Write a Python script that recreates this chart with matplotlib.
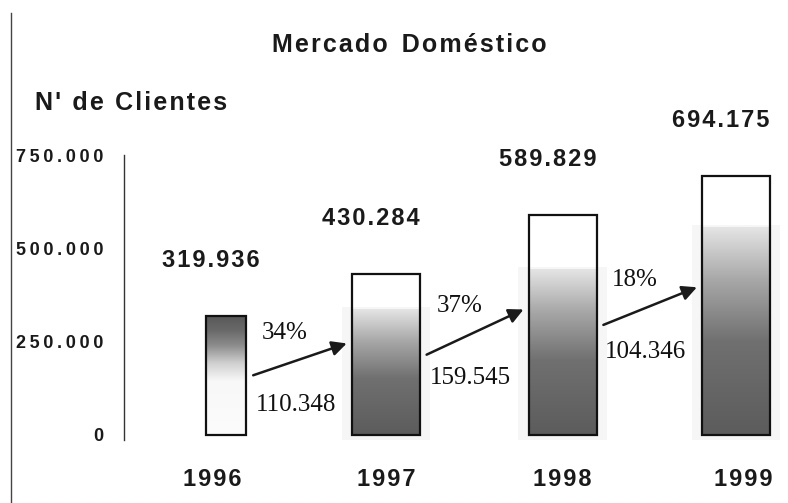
import matplotlib.pyplot as plt
import numpy as np
from matplotlib.colors import LinearSegmentedColormap

# data
years = ['1996', '1997', '1998', '1999']
clientes = [319936, 430284, 589829, 694175]
clientes_txt = ['319.936', '430.284', '589.829', '694.175']
crecimiento = ['34%', '37%', '18%']
incremento = ['110.348', '159.545', '104.346']
yticks = [0, 250000, 500000, 750000]
ytick_txt = ['0', '250.000', '500.000', '750.000']

# layout
xpos = [0, 0.94, 1.98, 3.0]
xlab = [-0.08, 0.94, 1.98, 3.04]
widths = [0.24, 0.40, 0.40, 0.40]
grad_top = [1.0, 0.78, 0.75, 0.80]

SANS = ['Liberation Sans', 'DejaVu Sans']
SERIF = ['Liberation Serif', 'DejaVu Serif']
HAIR = '\u200a'
THIN = '\u2009'


def spaced(s, sp=HAIR):
    return sp.join(s)


fig = plt.figure(figsize=(7.88, 5.03), dpi=100)
ax = fig.add_axes([124 / 788, 63 / 503, 664 / 788, 285 / 503])
ax.set_xlim(-0.6, 3.306)
ax.set_ylim(-13400, 750000)

dark_up = LinearSegmentedColormap.from_list(
    'g1', [(0, '#5c5c5c'), (0.45, '#707070'), (0.75, '#a8a8a8'), (1, '#e4e4e4')])
inv = LinearSegmentedColormap.from_list(
    'g2', [(0, '#fcfcfc'), (0.45, '#f8f8f8'), (0.6, '#d0d0d0'), (0.75, '#8c8c8c'),
           (0.88, '#686868'), (1, '#585858')])

for i, (x, v, w) in enumerate(zip(xpos, clientes, widths)):
    grad = np.linspace(0, 1, 200).reshape(-1, 1)
    top = v * grad_top[i]
    if i == 0:
        ax.imshow(grad, extent=[x - w / 2, x + w / 2, 0, top], origin='lower',
                  cmap=inv, aspect='auto', zorder=2)
    else:
        ax.add_patch(plt.Rectangle((x - w / 2 - 0.06, -13400), w + 0.12, top + 20000,
                                   facecolor='#f6f6f6', edgecolor='none', zorder=1))
        ax.imshow(grad, extent=[x - w / 2, x + w / 2, 0, top], origin='lower',
                  cmap=dark_up, aspect='auto', zorder=2)
    ax.bar(x, v, width=w, facecolor='none', edgecolor='#111111', linewidth=1.6, zorder=3)
    ax.annotate(spaced(clientes_txt[i]), (x, v), xytext=(-11, 40), textcoords='offset points',
                ha='center', va='center', fontsize=17, fontweight='bold', family=SANS,
                color='#1a1a1a')

for i in range(3):
    x0 = xpos[i] + widths[i] / 2 + 0.04
    y0 = clientes[i] * 0.5
    x1 = xpos[i + 1] - widths[i + 1] / 2 - 0.03
    y1 = clientes[i + 1] * 0.57
    ax.annotate('', xy=(x1, y1), xytext=(x0, y0),
                arrowprops=dict(arrowstyle='-|>', color='#1a1a1a', lw=1.8,
                                mutation_scale=22, shrinkA=0, shrinkB=0), zorder=4)
    xm, ym = (x0 + x1) / 2, (y0 + y1) / 2
    ax.annotate(crecimiento[i], (xm, ym), xytext=(-11, 19), textcoords='offset points',
                ha='center', va='center', fontsize=18, family=SERIF, color='#111111', zorder=5)
    ax.annotate(incremento[i], (xm, ym), xytext=(-3, -33), textcoords='offset points',
                ha='center', va='center', fontsize=18, family=SERIF, color='#111111', zorder=5)

ax.set_xticks(xlab)
ax.set_xticklabels([spaced(y) for y in years], fontsize=17, fontweight='bold', family=SANS,
                   color='#1a1a1a')
ax.tick_params(axis='x', length=0, pad=20)
ax.set_yticks(yticks)
ax.set_yticklabels([spaced(t, THIN) for t in ytick_txt], fontsize=13, fontweight='bold',
                   family=SANS, color='#1a1a1a')
ax.tick_params(axis='y', length=0, pad=15)
for s in ['top', 'right', 'bottom']:
    ax.spines[s].set_visible(False)
ax.spines['left'].set_color('#333333')
ax.spines['left'].set_linewidth(1.0)

fig.text(409 / 788, 1 - 45 / 503, spaced('Mercado') + '  ' + spaced('Doméstico'),
         ha='center', va='center', fontsize=18, fontweight='bold', family=SANS, color='#1a1a1a')
fig.text(35 / 788, 1 - 103 / 503, spaced("N' de Clientes"), ha='left', va='center',
         fontsize=18, fontweight='bold', family=SANS, color='#1a1a1a')
fig.add_artist(plt.Line2D([11 / 788, 11 / 788], [0, 1 - 13 / 503], color='#444444', lw=1.0))

fig.savefig('out.png', dpi=100)
